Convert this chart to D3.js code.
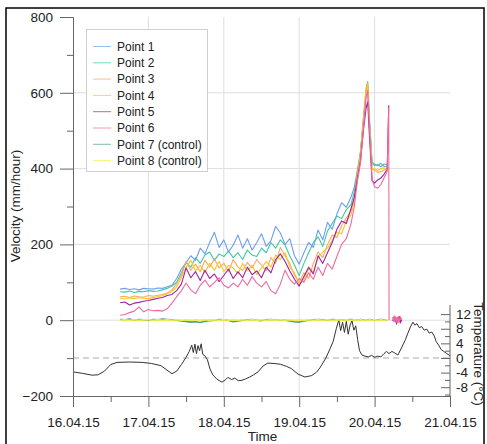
<!DOCTYPE html>
<html>
<head>
<meta charset="utf-8">
<script src="https://cdn.jsdelivr.net/npm/d3@7"></script>
<style>
  body { margin: 0; background: #fff; }
  svg { display: block; font-family: "Liberation Sans", Arial, sans-serif; }
</style>
</head>
<body>
<svg id="chart" width="487" height="444"></svg>
<script>
// ---- data -------------------------------------------------------------
// time is in hours after 16.04.15 00:00
const xTickLabels = ["16.04.15", "17.04.15", "18.04.15", "19.04.15", "20.04.15", "21.04.15"];
const velocityTicks = [-200, 0, 200, 400, 600, 800];
const temperatureTicks = [-8, -4, 0, 4, 8, 12];

const seriesNames = ["Point 1", "Point 2", "Point 3", "Point 4", "Point 5", "Point 6", "Point 7 (control)", "Point 8 (control)"];
const seriesColors = ["#6d9ef2", "#3fc6a6", "#f8a862", "#ffc41c", "#9b22a5", "#f06aa0", "#519e8d", "#f2f23a"];

const hours = [15, 16.5, 18, 19.5, 21, 22.5, 24, 25.5, 27, 28.5, 30, 31.5, 33, 34.5, 36, 37.5, 39, 40.5, 42, 43.5,
  45, 46.5, 48, 49.5, 51, 52.5, 54, 55.5, 57, 58.5, 60, 61.5, 63, 64.5, 66, 67.5, 69, 70.5, 72, 73.5,
  75, 76.5, 78, 79.5, 81, 82.5, 84, 85.5, 87, 88.5,
  89.5, 90.5, 91.5, 92.5, 93.3, 93.8, 94.4, 95.2, 96, 97, 98, 99, 100, 100.5, 100.6];

// velocity in mm/hour
const point1 = [82, 84, 81, 83, 80, 84, 83, 82, 85, 84, 88,
  92, 110, 135, 152, 170, 158, 190, 175, 205, 232,
  192, 212, 180, 198, 225, 190, 215, 185, 205, 228,
  195, 210, 248, 230, 200, 215, 170, 148, 178, 205,
  192, 238, 212, 258, 240, 280, 310, 298, 325,
  350, 395, 440, 530, 598, 615, 520, 414, 408, 410, 405, 412, 410, null, null];
const point2 = [75, 74, 77, 73, 76, 75, 78, 76, 77, 80, 84,
  90, 100, 125, 152, 140, 165, 150, 172, 180, 158,
  175, 168, 182, 165, 178, 160, 185, 172, 168, 190,
  178, 205, 190, 212, 198, 170, 145, 118, 150, 178,
  205, 220, 195, 235, 255, 275, 268, 292, 305,
  338, 390, 445, 540, 610, 630, 525, 416, 412, 408, 414, 406, 405, null, null];
const point3 = [62, 63, 60, 64, 62, 61, 65, 63, 66, 68, 72,
  80, 96, 118, 155, 132, 148, 128, 158, 140, 162,
  138, 150, 128, 160, 140, 132, 152, 138, 160, 145,
  130, 165, 150, 192, 170, 150, 118, 100, 125, 110,
  150, 180, 165, 200, 225, 218, 250, 270, 288,
  322, 386, 442, 535, 612, 628, 515, 400, 395, 390, 392, 396, 400, null, null];
const point4 = [58, 56, 59, 57, 60, 58, 57, 60, 62, 65, 70,
  76, 88, 112, 140, 158, 130, 145, 125, 150, 132,
  155, 128, 145, 138, 122, 150, 130, 145, 120, 138,
  155, 140, 172, 160, 178, 140, 125, 95, 108, 135,
  128, 165, 180, 190, 210, 232, 228, 262, 278,
  312, 378, 432, 525, 600, 620, 510, 398, 400, 395, 400, 402, 398, null, null];
const point5 = [46, 48, 40, 45, 47, 50, 52, 55, 58, 60, 65,
  68, 78, 95, 138, 112, 128, 105, 132, 110, 122,
  102, 118, 135, 110, 128, 112, 140, 120, 130, 112,
  140, 125, 160, 175, 155, 130, 108, 90, 115, 140,
  122, 170, 150, 178, 205, 240, 262, 255, 295,
  322, 372, 420, 505, 560, 576, 480, 368, 362, 370, 375, 385, 398, 567, null];
const point6 = [13, 15, 20, 24, 35, 22, 28, 25, 26, 24, 30,
  45, 62, 78, 98, 80, 70, 92, 106, 88, 100,
  112, 92, 85, 98, 88, 108, 92, 115, 98, 88,
  102, 78, 70, 95, 132, 108, 95, 110, 100, 125,
  108, 140, 118, 150, 135, 168, 200, 215, 255,
  298, 365, 415, 512, 588, 605, 500, 372, 352, 348, 358, 375, 392, 560, 0];
const point7 = [2, 1, 3, 0, 2, 1, 0, 2, 1, 3, 2,
  1, 0, -2, -3, -5, -4, -6, -3, -1, 0,
  2, 1, -1, -4, -2, 0, 1, 2, 0, -1,
  1, 2, 0, 1, 0, -2, -4, -5, -2, 0,
  1, 2, 1, 0, 2, 1, 0, 1, 2,
  1, 0, 2, 1, 0, 1, 2, 1, 0, 1, 2, 1, 0, null, null];
const point8 = [0, 1, 0, 1, 0, 1, 1, 0, 1, 0, 1,
  0, 1, 0, 1, 0, 1, 0, 1, 0, 1,
  0, 1, 0, 1, 0, 1, 0, 1, 0, 1,
  0, 1, 0, 1, 0, 1, 0, 1, 0, 1,
  0, 1, 0, 1, 0, 1, 0, 1, 0,
  1, 0, 1, 0, 1, 0, 1, 0, 1, 0, 1, 0, 1, null, null];

// short records after the gap (Points 3, 5, 6)
const tailHours = [101.8, 102.2, 102.6, 103.0, 103.4, 103.8, 104.2, 104.6];
const tailPoint3 = [4, 10, -5, 8, -6, 10, -2, 5];
const tailPoint5 = [-2, 6, 3, -7, 5, 8, -5, 0];
const tailPoint6 = [8, -4, 10, -6, 9, -3, 7, 2];

// air temperature in °C
const tempHours = [0, 3, 6, 8, 10, 12, 14, 18, 22, 25, 28, 31.5, 33, 34.5, 36, 37, 37.8, 38.3, 38.8, 39.3,
  39.8, 40.3, 40.8, 41.3, 42, 42.8, 43.6, 44.5, 45.8, 47.4, 48.5, 49.3, 50.5, 51.5, 52.6, 53.8, 55, 56.3, 57.5, 58.9,
  60.5, 62, 64, 66, 68, 69.5, 71.6, 73.8, 75, 76, 77.5, 78.6, 80.5, 81.8, 82.8, 83.8, 84.6, 85.2, 85.8, 86.4,
  87, 87.6, 88.2, 88.8, 89.4, 90, 90.6, 91.2, 92, 93, 94, 95, 96, 97, 98, 99, 99.8, 100.6, 101.5, 102.4,
  103.4, 104.7, 105.8, 106.6, 107.4, 108.2, 108.8, 109.5, 110.2, 111, 111.8, 112.6, 113.4, 114.2, 115, 115.6, 116.4, 117.2, 118, 119, 120];
const tempValues = [-3.8, -4.2, -4.7, -4.6, -3.6, -1.8, -1.2, -1.1, -1.2, -1.5, -2.1, -4.3, -3.6, -1.8, 0.2, 1.8, 3.5, 1.5, 3.8, 1.2,
  3.4, 2.0, 3.9, 1.0, 0.6, -0.5, -3.0, -4.6, -5.8, -6.6, -6.0, -5.3, -5.9, -5.5, -6.2, -6.1, -5.7, -5.2, -4.6, -3.8,
  -2.2, -1.4, -1.5, -1.7, -2.3, -2.9, -4.4, -5.2, -5.0, -4.8, -3.9, -2.7, 0, 2.5, 4.5, 8.0, 10.4, 7.5, 9.8, 7.0,
  10.0, 6.5, 9.0, 10.2, 7.6, 8.8, 5.0, 2.0, 0.8, 0.5, 0.3, 0.7, 0.2, 0.5, 0.3, 1.2, 1.8, 1.2, 1.8, 1.4,
  0.8, 3.0, 5.0, 6.8, 8.5, 9.8, 9.0, 9.4, 8.3, 8.6, 7.6, 7.9, 6.8, 7.1, 6.0, 4.5, 3.5, 2.3, 1.8, 1.2, 0.6];

// ---- layout -------------------------------------------------------------
const svg = d3.select("#chart");
const plotLeft = 73, plotRight = 450, plotTop = 17, plotBottom = 396;
const textColor = "#222", axisColor = "#666", gridColor = "#dedede";

const x = d3.scaleLinear().domain([0, 120]).range([plotLeft, plotRight]);
const y = d3.scaleLinear().domain([-200, 800]).range([plotBottom, plotTop]);
const yT = d3.scaleLinear().domain([-10.4, 14.5]).range([plotBottom, 305]);

// outer frame
svg.append("rect").attr("x", 6).attr("y", 8).attr("width", 478).attr("height", 440)
  .attr("fill", "none").attr("stroke", "#000").attr("stroke-width", 1.5);

// grid
const grid = svg.append("g").attr("stroke", gridColor).attr("stroke-width", 1);
[24, 48, 72, 96].forEach(h => grid.append("line")
  .attr("x1", x(h)).attr("x2", x(h)).attr("y1", plotTop).attr("y2", plotBottom));
[0, 200, 400, 600].forEach(v => grid.append("line")
  .attr("x1", plotLeft).attr("x2", plotRight).attr("y1", y(v)).attr("y2", y(v)));

// temperature
svg.append("line").attr("x1", plotLeft).attr("x2", plotRight).attr("y1", yT(0)).attr("y2", yT(0))
  .attr("stroke", "#aaa").attr("stroke-width", 1).attr("stroke-dasharray", "6,4");
const tempLine = d3.line().x((d, i) => x(tempHours[i])).y(d => yT(d));
svg.append("path").attr("d", tempLine(tempValues)).attr("fill", "none")
  .attr("stroke", "#333").attr("stroke-width", 1);

// velocity series
const allSeries = [point1, point2, point3, point4, point5, point6, point7, point8];
const vLine = d3.line().defined(d => d != null).x((d, i) => x(hours[i])).y(d => y(d));
allSeries.forEach((s, k) => {
  svg.append("path").attr("d", vLine(s)).attr("fill", "none")
    .attr("stroke", seriesColors[k]).attr("stroke-width", k >= 6 ? 1.6 : 1.1)
    .attr("stroke-linejoin", "round");
});
const tLine = d3.line().x((d, i) => x(tailHours[i])).y(d => y(d));
[[tailPoint3, 2], [tailPoint5, 4], [tailPoint6, 5]].forEach(([s, k]) => {
  svg.append("path").attr("d", tLine(s)).attr("fill", "none")
    .attr("stroke", seriesColors[k]).attr("stroke-width", 1.5);
});

// axes
const fontSize = 13.5;
const xAxis = svg.append("g").attr("transform", `translate(0,${plotBottom})`)
  .call(d3.axisBottom(x).tickValues([0, 24, 48, 72, 96, 120])
    .tickFormat((d, i) => xTickLabels[i]).tickSize(11).tickPadding(10));
const xMinor = svg.append("g").attr("transform", `translate(0,${plotBottom})`)
  .call(d3.axisBottom(x).tickValues([12, 36, 60, 84, 108]).tickFormat("").tickSize(6));
xMinor.select(".domain").remove();

const yAxis = svg.append("g").attr("transform", `translate(${plotLeft},0)`)
  .call(d3.axisLeft(y).tickValues(velocityTicks).tickSize(13).tickPadding(7));
const yMinor = svg.append("g").attr("transform", `translate(${plotLeft},0)`)
  .call(d3.axisLeft(y).tickValues([-100, 100, 300, 500, 700]).tickFormat("").tickSize(6));
yMinor.select(".domain").remove();

const tAxis = svg.append("g").attr("transform", `translate(${plotRight},0)`)
  .call(d3.axisLeft(yT).tickValues(temperatureTicks).tickFormat("").tickSize(9));
tAxis.select(".domain").attr("d", `M0,${yT.range()[1]}V${plotBottom}`);
const tMinor = svg.append("g").attr("transform", `translate(${plotRight},0)`)
  .call(d3.axisLeft(yT).tickValues([-10, -6, -2, 2, 6, 10]).tickFormat("").tickSize(5));
tMinor.select(".domain").remove();
svg.append("g").selectAll("text").data(temperatureTicks).join("text")
  .attr("x", 456).attr("y", d => yT(d)).attr("dy", "0.35em")
  .attr("font-size", fontSize).attr("fill", textColor).text(d => d);

[xAxis, xMinor, yAxis, yMinor, tAxis, tMinor].forEach(g => {
  g.selectAll(".domain, .tick line").attr("stroke", axisColor);
  g.selectAll("text").attr("font-size", fontSize).attr("fill", textColor)
    .attr("font-family", "Liberation Sans, Arial, sans-serif");
});

// axis titles
svg.append("text").attr("transform", "translate(20,206) rotate(-90)")
  .attr("text-anchor", "middle").attr("font-size", fontSize).attr("fill", textColor)
  .text("Velocity (mm/hour)");
svg.append("text").attr("x", (plotLeft + plotRight) / 2 + 1).attr("y", 441)
  .attr("text-anchor", "middle").attr("font-size", fontSize).attr("fill", textColor)
  .text("Time");
svg.append("text").attr("transform", "translate(474,354) rotate(90)")
  .attr("text-anchor", "middle").attr("font-size", fontSize).attr("fill", textColor)
  .text("Temperature (°C)");

// legend
const legend = svg.append("g");
legend.append("rect").attr("x", 86.5).attr("y", 29.5).attr("width", 121).attr("height", 142)
  .attr("fill", "#fff").attr("stroke", "#d0d0d0");
seriesNames.forEach((name, i) => {
  const ly = 46.5 + i * 16.3;
  legend.append("line").attr("x1", 93).attr("x2", 111).attr("y1", ly).attr("y2", ly)
    .attr("stroke", seriesColors[i]).attr("stroke-width", 1).attr("opacity", 0.7);
  legend.append("text").attr("x", 117).attr("y", ly).attr("dy", "0.35em")
    .attr("font-size", 12).attr("fill", textColor).text(name);
});
</script>
</body>
</html>
